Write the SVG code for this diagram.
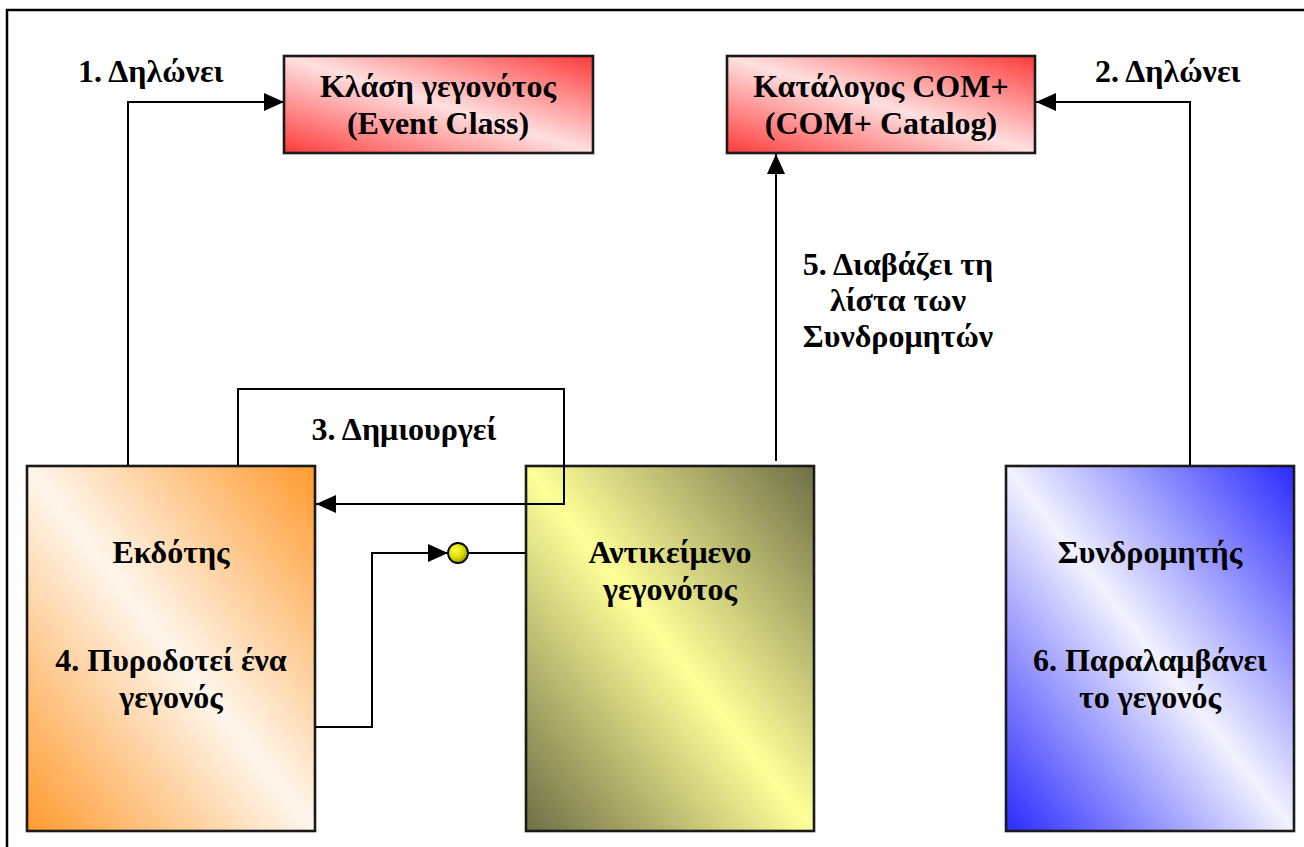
<svg xmlns="http://www.w3.org/2000/svg" width="1304" height="847" viewBox="0 0 1304 847">
  <style>
    .box { stroke: #1a1a1a; stroke-width: 2.6; }
    .wire { fill: none; stroke: #000; stroke-width: 2; }
    text { font-family: "Liberation Serif", "Times New Roman", "DejaVu Serif", serif; font-weight: bold; font-size: 32px; fill: #000; text-anchor: middle; }
    .lbl { text-anchor: start; }
  </style>
  <defs>
    <!-- diagonal two-colour fills: saturated at bottom-left and top-right corners, pale across the centre -->
    <linearGradient id="gRed" x1="0" y1="1" x2="1" y2="0">
      <stop offset="0" stop-color="#ff3a3a"/>
      <stop offset="0.5" stop-color="#ffe0e0"/>
      <stop offset="1" stop-color="#ff3a3a"/>
    </linearGradient>
    <linearGradient id="gOrange" x1="0" y1="1" x2="1" y2="0">
      <stop offset="0" stop-color="#ff9a2e"/>
      <stop offset="0.5" stop-color="#fff6ec"/>
      <stop offset="1" stop-color="#ff9a2e"/>
    </linearGradient>
    <linearGradient id="gOlive" x1="0" y1="1" x2="1" y2="0">
      <stop offset="0" stop-color="#6e6e46"/>
      <stop offset="0.5" stop-color="#ffff99"/>
      <stop offset="1" stop-color="#6e6e46"/>
    </linearGradient>
    <linearGradient id="gBlue" x1="0" y1="1" x2="1" y2="0">
      <stop offset="0" stop-color="#2a2aff"/>
      <stop offset="0.5" stop-color="#f2f2ff"/>
      <stop offset="1" stop-color="#2a2aff"/>
    </linearGradient>
    <radialGradient id="gKnob" cx="0.38" cy="0.35" r="0.7">
      <stop offset="0" stop-color="#ffff40"/>
      <stop offset="0.6" stop-color="#d8d800"/>
      <stop offset="1" stop-color="#8a8a00"/>
    </radialGradient>
    <marker id="arrow" viewBox="0 0 20 18" refX="20" refY="9" markerWidth="20" markerHeight="18" markerUnits="userSpaceOnUse" orient="auto">
      <path d="M0,0 L20,9 L0,18 Z" fill="#000"/>
    </marker>
  </defs>

  <rect width="1304" height="847" fill="#fff"/>
  <!-- page frame -->
  <path d="M7,847 V10 H1304" fill="none" stroke="#000" stroke-width="2.5"/>

  <g id="event-class">
    <rect class="box" x="284" y="56" width="309" height="97" fill="url(#gRed)"/>
    <text x="438" y="97">Κλάση γεγονότος</text>
    <text x="438" y="134">(Event Class)</text>
  </g>

  <g id="com-catalog">
    <rect class="box" x="727" y="56" width="308" height="97" fill="url(#gRed)"/>
    <text x="881" y="97">Κατάλογος COM+</text>
    <text x="881" y="134">(COM+ Catalog)</text>
  </g>

  <g id="publisher">
    <rect class="box" x="27" y="466" width="288" height="365" fill="url(#gOrange)"/>
    <text x="171" y="563">Εκδότης</text>
    <text x="171" y="671">4. Πυροδοτεί ένα</text>
    <text x="171" y="708">γεγονός</text>
  </g>

  <g id="event-object">
    <rect class="box" x="526" y="466" width="288" height="365" fill="url(#gOlive)"/>
    <text x="670" y="563">Αντικείμενο</text>
    <text x="670" y="600">γεγονότος</text>
  </g>

  <g id="subscriber">
    <rect class="box" x="1006" y="466" width="288" height="365" fill="url(#gBlue)"/>
    <text x="1150" y="563">Συνδρομητής</text>
    <text x="1150" y="671">6. Παραλαμβάνει</text>
    <text x="1150" y="708">το γεγονός</text>
  </g>

  <!-- connectors, drawn over the nodes -->
  <g id="connectors">
    <path class="wire" d="M128,466 V102 H284" marker-end="url(#arrow)"/>
    <path class="wire" d="M1190,466 V102 H1036" marker-end="url(#arrow)"/>
    <path class="wire" d="M776,461 V154" marker-end="url(#arrow)"/>
    <path class="wire" d="M238,466 V389 H564 V504 H316" marker-end="url(#arrow)"/>
    <path class="wire" d="M315,727 H372 V553 H448" marker-end="url(#arrow)"/>
    <line class="wire" x1="468" y1="553" x2="526" y2="553"/>
    <circle cx="458" cy="553" r="10" fill="url(#gKnob)" stroke="#000" stroke-width="1.8"/>
  </g>

  <!-- connector labels -->
  <g id="labels">
    <text class="lbl" x="78" y="82">1. Δηλώνει</text>
    <text class="lbl" x="1095" y="82">2. Δηλώνει</text>
    <text x="404" y="440">3. Δημιουργεί</text>
    <text x="898" y="275">5. Διαβάζει τη</text>
    <text x="898" y="311">λίστα των</text>
    <text x="898" y="347">Συνδρομητών</text>
  </g>
</svg>
